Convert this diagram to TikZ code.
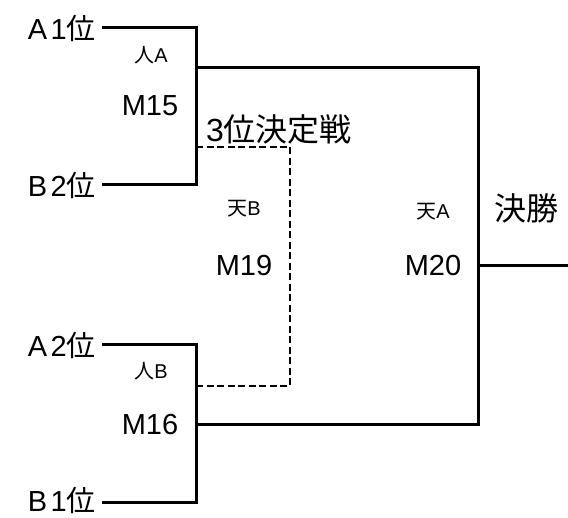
\documentclass[tikz,border=0pt]{standalone}
\usepackage{fontspec}
\setmainfont{Liberation Sans}
\newfontfamily\wide[LetterSpace=12]{Liberation Sans}
\newfontfamily\jp{Noto Sans CJK JP}
\usetikzlibrary{positioning}
\tikzset{
  team/.style={font=\wide\fontsize{29}{33}\selectfont, inner sep=0pt, anchor=east},
  tag/.style={font=\fontsize{20}{24}\selectfont, inner sep=0pt},
  mnum/.style={font=\fontsize{29}{32}\selectfont, inner sep=0pt},
  head/.style={font=\fontsize{32}{36}\selectfont, inner sep=0pt},
  wire/.style={line width=3pt},
  dwire/.style={line width=2.4pt, dash pattern=on 7pt off 3.5pt},
}

\begin{document}
\begin{tikzpicture}[x=1pt, y=-1pt]
  \useasboundingbox (0,0) rectangle (568,518);

  %% ── teams ──
  \node[team] (a1) at (96,28)  {A1{\jp 位}};
  \node[team] (b2) at (96,185) {B2{\jp 位}};
  \node[team] (a2) at (96,345) {A2{\jp 位}};
  \node[team] (b1) at (96,500) {B1{\jp 位}};

  %% ── junctions ──
  \coordinate (k15) at (196,68);
  \coordinate (k16) at (196,425);
  \coordinate (l15) at (196,147);
  \coordinate (l16) at (196,386);
  \coordinate (k19) at (290,266);
  \coordinate (k20) at (478,266);
  \coordinate (fin) at (568,266);

  %% ── M15 / M16 ──
  \draw[wire] ([xshift=6pt]a1.east) -| (k15) |- ([xshift=6pt]b2.east);
  \draw[wire] ([xshift=6pt]a2.east) -| (k16) |- ([xshift=6pt,yshift=-3pt]b1.east);

  %% ── final M20 ──
  \draw[wire] (k15) -| (k20) |- (k16);
  \draw[wire] (k20) -- (fin);

  %% ── 3rd place M19 ──
  \draw[dwire] (l15) -| (k19) |- (l16);

  %% labels
  \node[tag]  (t15) at (151,55)  {{\jp 人}A};
  \node[mnum] (m15) at (150,106) {M15};
  \node[tag]  (t16) at (151,371) {{\jp 人}B};
  \node[mnum] (m16) at (150,425) {M16};
  \node[tag]  (t19) at (244,209) {{\jp 天}B};
  \node[mnum] (m19) at (244,266) {M19};
  \node[tag]  (t20) at (433,212) {{\jp 天}A};
  \node[mnum] (m20) at (433,266) {M20};
  \node[head] (third) at (279,129) {3{\jp 位決定戦}};
  \node[head] (final) at (526,208) {{\jp 決勝}};
\end{tikzpicture}
\end{document}
